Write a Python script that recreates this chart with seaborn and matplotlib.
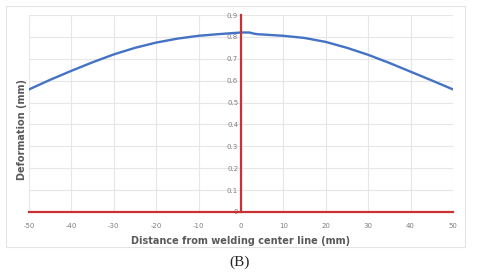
import pandas as pd
import matplotlib.pyplot as plt
import seaborn as sns
from matplotlib.patches import Rectangle

# =========================
# Data
# =========================
distance = [-50, -45, -40, -35, -30, -25, -20, -15, -10, -5, 0, 2, 3, 4, 5, 10, 15, 20, 25, 30, 35, 40, 45, 50]
deformation = [0.56, 0.604, 0.645, 0.684, 0.72, 0.75, 0.774, 0.792, 0.805, 0.813, 0.82, 0.82, 0.815, 0.812,
               0.811, 0.805, 0.795, 0.777, 0.75, 0.718, 0.681, 0.641, 0.601, 0.56]
x_ticks = [-50, -40, -30, -20, -10, 0, 10, 20, 30, 40, 50]
y_ticks = [0, 0.1, 0.2, 0.3, 0.4, 0.5, 0.6, 0.7, 0.8, 0.9]
y_ticklabels = ['0', '0.1', '0.2', '0.3', '0.4', '0.5', '0.6', '0.7', '0.8', '0.9']

df = pd.DataFrame({'distance': distance, 'deformation': deformation})

sns.set_style('white')
plt.rcParams['font.family'] = ['DejaVu Sans']

W, H = 480, 278
fig = plt.figure(figsize=(4.8, 2.78), dpi=100)

# outer chart frame
fig.patches.append(Rectangle((6 / W, 1 - 247 / H), 459 / W, 241 / H, transform=fig.transFigure,
                             fill=False, edgecolor='#E3E3E3', linewidth=0.8))

ax = fig.add_axes([29 / W, 66 / H, 424 / W, 197 / H])

sns.lineplot(data=df, x='distance', y='deformation', ax=ax, color='#4472C4', linewidth=1.7)

ax.set_xlim(-50, 50)
ax.set_ylim(0, 0.9)
ax.set_xticks(x_ticks)
ax.set_xticklabels([str(t) for t in x_ticks])
ax.set_yticks(y_ticks)
ax.set_yticklabels(y_ticklabels)
ax.grid(True, color='#E6E6E6', linewidth=0.8)

for s in ['top', 'right']:
    ax.spines[s].set_visible(False)
ax.spines['left'].set_position(('data', 0))
ax.spines['left'].set_color('#C83232')
ax.spines['left'].set_linewidth(1.6)
ax.spines['bottom'].set_color('#C83232')
ax.spines['bottom'].set_linewidth(1.6)
ax.spines['left'].set_zorder(3)

ax.tick_params(axis='both', length=0, labelsize=5, labelcolor='#7F7F7F')
ax.tick_params(axis='x', pad=8)
ax.tick_params(axis='y', pad=2)

ax.set_xlabel('Distance from welding center line (mm)', fontsize=7, fontweight='bold', color='#595959', labelpad=5)
ax.set_ylabel('')
fig.text(22 / W, 1 - 130 / H, 'Deformation (mm)', rotation=90, fontsize=7, fontweight='bold',
         color='#595959', ha='center', va='center')

fig.text(240 / W, 1 - 262 / H, '(B)', fontsize=11, family='Liberation Serif', ha='center', va='center')

plt.savefig('out.png', dpi=100)
